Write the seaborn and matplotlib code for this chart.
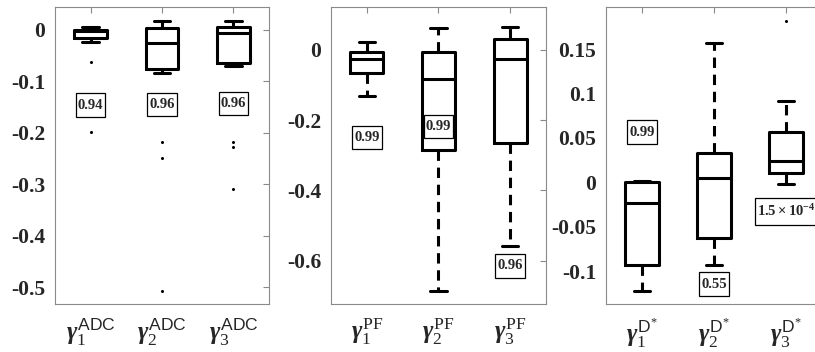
import numpy as np
import pandas as pd
import matplotlib
matplotlib.use("Agg")
import matplotlib.pyplot as plt
from matplotlib.path import Path
import seaborn as sns

# ---- five-number summaries (lower whisker, Q1, median, Q3, upper whisker) ----
adc_terms = [r"$\gamma_{\mathrm{1}}^{\mathsf{ADC}}$", r"$\gamma_{\mathrm{2}}^{\mathsf{ADC}}$", r"$\gamma_{\mathrm{3}}^{\mathsf{ADC}}$"]
adc_whislo = [-0.023, -0.083, -0.070]
adc_q1 = [-0.016, -0.076, -0.065]
adc_med = [-0.002, -0.026, -0.0065]
adc_q3 = [0.000, 0.003, 0.005]
adc_whishi = [0.005, 0.018, 0.018]
adc_outliers = [[-0.063, -0.198], [-0.217, -0.250, -0.507], [-0.218, -0.227, -0.310]]
adc_pvals = ["0.94", "0.96", "0.96"]
adc_pval_y = [-0.146, -0.145, -0.143]

pf_terms = [r"$\gamma_{\mathrm{1}}^{\mathrm{PF}}$", r"$\gamma_{\mathrm{2}}^{\mathrm{PF}}$", r"$\gamma_{\mathrm{3}}^{\mathrm{PF}}$"]
pf_whislo = [-0.131, -0.686, -0.557]
pf_q1 = [-0.066, -0.285, -0.266]
pf_med = [-0.027, -0.083, -0.027]
pf_q3 = [-0.005, -0.005, 0.030]
pf_whishi = [0.022, 0.062, 0.065]
pf_outliers = [[], [], []]
pf_pvals = ["0.99", "0.99", "0.96"]
pf_pval_y = [-0.250, -0.218, -0.615]

ds_terms = [r"$\gamma_{\mathrm{1}}^{\mathsf{D}^{*}}$", r"$\gamma_{\mathrm{2}}^{\mathsf{D}^{*}}$", r"$\gamma_{\mathrm{3}}^{\mathsf{D}^{*}}$"]
ds_whislo = [-0.1225, -0.093, -0.002]
ds_q1 = [-0.093, -0.063, 0.0108]
ds_med = [-0.0236, 0.0045, 0.0243]
ds_q3 = [0.000, 0.0327, 0.0563]
ds_whishi = [0.001, 0.1565, 0.092]
ds_outliers = [[], [], [0.182]]
ds_pvals = ["0.99", "0.55", r"$\mathbf{1.5\times10^{-4}}$"]
ds_pval_y = [0.0566, -0.1145, -0.0327]

# ---- axis settings ----
adc_ylim = (-0.533, 0.0447)
adc_ticks = [-0.5, -0.4, -0.3, -0.2, -0.1, 0.0]
adc_ticklabels = ["-0.5", "-0.4", "-0.3", "-0.2", "-0.1", "0"]
pf_ylim = (-0.7236, 0.1225)
pf_ticks = [-0.6, -0.4, -0.2, 0.0]
pf_ticklabels = ["-0.6", "-0.4", "-0.2", "0"]
ds_ylim = (-0.137, 0.1974)
ds_ticks = [-0.1, -0.05, 0.0, 0.05, 0.1, 0.15]
ds_ticklabels = ["-0.1", "-0.05", "0", "0.05", "0.1", "0.15"]

sns.set_theme(style="white")
plt.rcParams.update({
    "font.family": ["Liberation Serif", "DejaVu Serif"],
    "font.weight": "bold",
    "mathtext.fontset": "custom",
    "mathtext.rm": "Liberation Serif:weight=normal",
    "mathtext.it": "Liberation Serif:italic:bold",
    "mathtext.bf": "Liberation Serif:bold",
    "mathtext.sf": "Liberation Sans:weight=normal",
})


def label_box(x0, y0, width, height, mutation_size):
    """Square frame with a small side margin and a taller top/bottom margin."""
    px, py = 0.14 * mutation_size, 0.36 * mutation_size
    x0, y0 = x0 - px, y0 - py
    x1, y1 = x0 + width + 2 * px, y0 + height + 2 * py
    return Path([(x0, y0), (x1, y0), (x1, y1), (x0, y1), (x0, y0)], closed=True)


fig = plt.figure(figsize=(8.15, 3.52), dpi=100)
bottom, height = 0.1364, 0.8438
axes = [
    fig.add_axes([0.0675, bottom, 0.2626, height]),
    fig.add_axes([0.4061, bottom, 0.2638, height]),
    fig.add_axes([0.7436, bottom, 0.2650, height]),
]

panels = [
    (adc_terms, adc_whislo, adc_q1, adc_med, adc_q3, adc_whishi, adc_outliers,
     adc_pvals, adc_pval_y, adc_ylim, adc_ticks, adc_ticklabels),
    (pf_terms, pf_whislo, pf_q1, pf_med, pf_q3, pf_whishi, pf_outliers,
     pf_pvals, pf_pval_y, pf_ylim, pf_ticks, pf_ticklabels),
    (ds_terms, ds_whislo, ds_q1, ds_med, ds_q3, ds_whishi, ds_outliers,
     ds_pvals, ds_pval_y, ds_ylim, ds_ticks, ds_ticklabels),
]

line_kw = dict(color="black", linewidth=2.2)
for ax, (terms, wlo, q1, med, q3, whi, outl, pvals, pval_y, ylim, ticks, tlabels) in zip(axes, panels):
    # long-form table: each group holds its five summary values, so that
    # percentiles (0, 25, 50, 75, 100) reproduce the summary exactly
    rows = []
    for t, a, b, c, d, e in zip(terms, wlo, q1, med, q3, whi):
        for v in (a, b, c, d, e):
            rows.append({"term": t, "value": v})
    box_df = pd.DataFrame(rows)

    sns.boxplot(data=box_df, x="term", y="value", order=terms, ax=ax,
                whis=(0, 100), fill=False, color="black", linewidth=2.2,
                width=0.46, showfliers=False,
                whiskerprops=dict(linestyle=(0, (3.4, 2.2)), **line_kw),
                capprops=line_kw, medianprops=line_kw, boxprops=line_kw)

    out_rows = [{"term": t, "value": v} for t, vals in zip(terms, outl) for v in vals]
    if out_rows:
        out_df = pd.DataFrame(out_rows)
        sns.stripplot(data=out_df, x="term", y="value", order=terms, ax=ax,
                      jitter=False, color="black", size=2.2, linewidth=0)

    for i, (s, y) in enumerate(zip(pvals, pval_y)):
        ax.text(i, y, s, ha="center", va="center",
                fontsize=10.5, fontweight="bold", zorder=5, clip_on=False,
                bbox=dict(boxstyle=label_box, facecolor="white",
                          edgecolor="black", linewidth=0.9))

    ax.set_xlim(-0.5, 2.5)
    ax.set_ylim(*ylim)
    ax.set_yticks(ticks)
    ax.set_yticklabels(tlabels, fontsize=15.5, fontweight="bold")
    ax.set_xticks(range(len(terms)))
    ax.set_xticklabels(terms, fontsize=18)
    ax.set_xlabel("")
    ax.set_ylabel("")
    ax.tick_params(axis="both", direction="in", top=True, right=True,
                   length=4, width=0.8, color="#8a8a8a")
    ax.tick_params(axis="y", pad=7)
    ax.tick_params(axis="x", pad=9)
    for sp in ax.spines.values():
        sp.set_visible(True)
        sp.set_color("#8a8a8a")
        sp.set_linewidth(0.8)

fig.savefig("out.png", dpi=100)
